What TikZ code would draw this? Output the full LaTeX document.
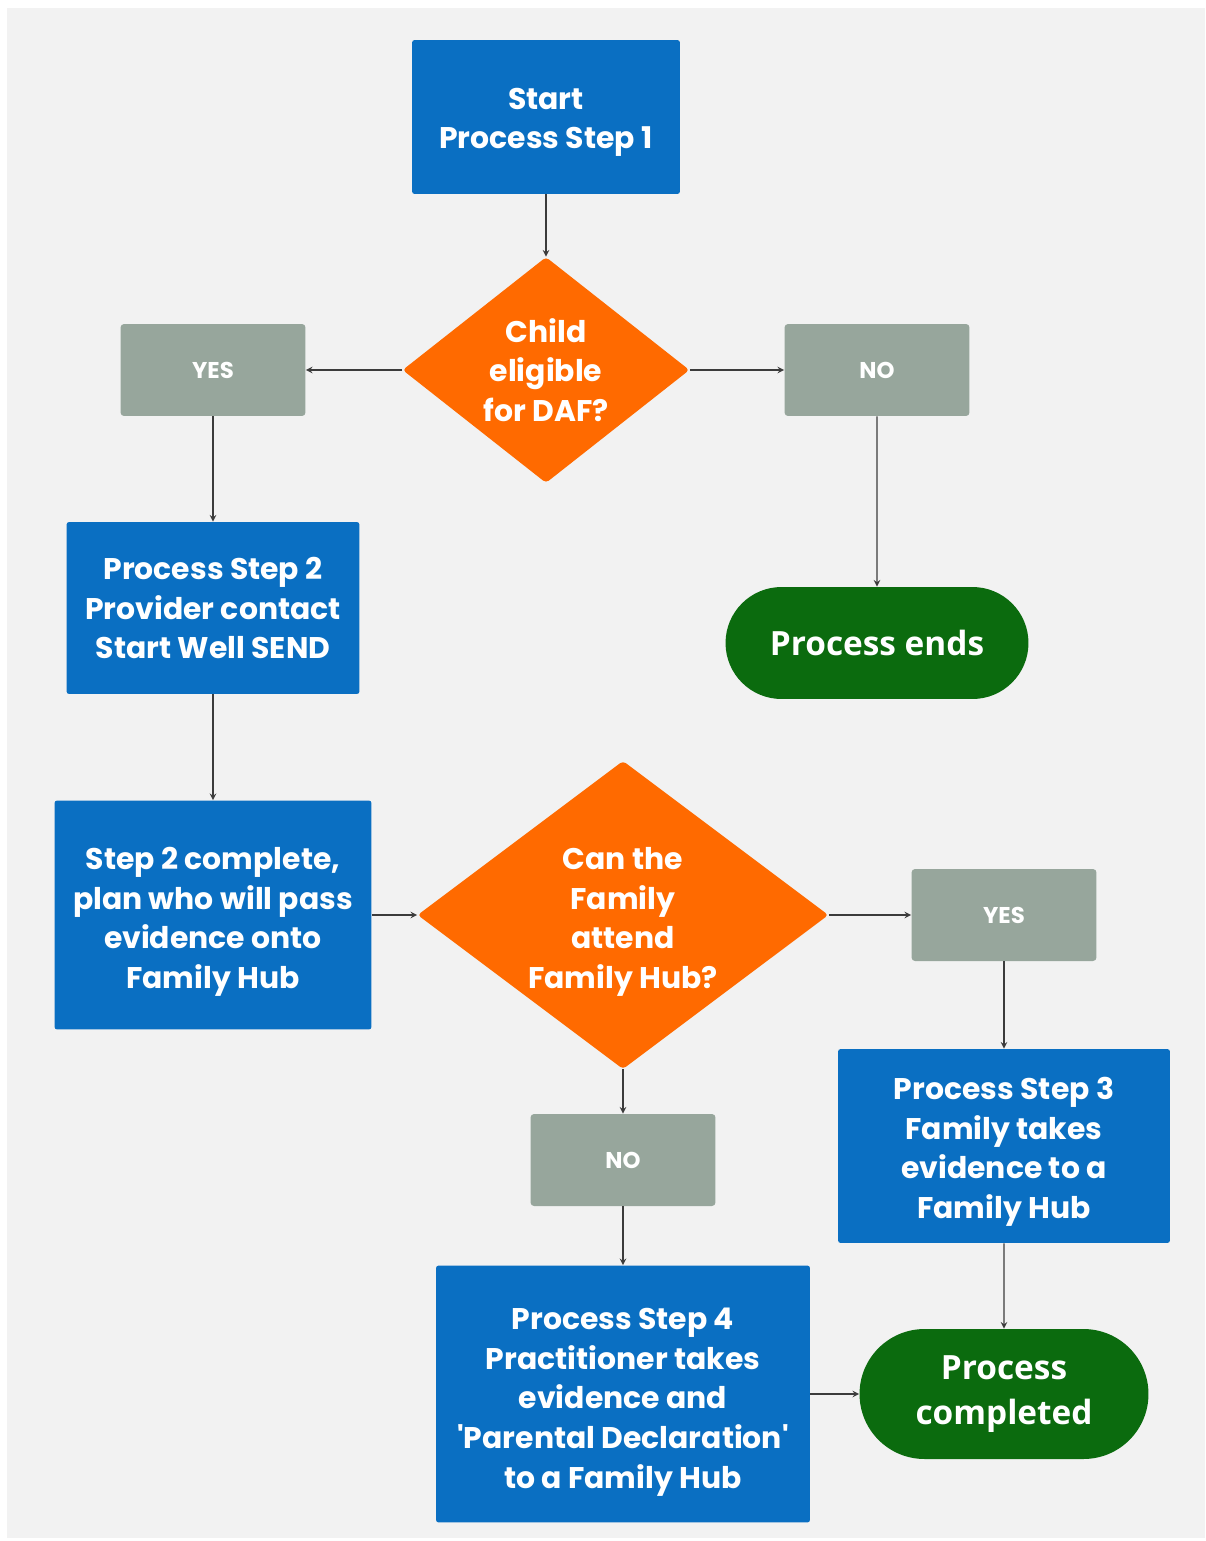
\documentclass[tikz,border=0pt]{standalone}
\usepackage{fontspec}
\setmainfont{Poppins}
\newfontfamily\endfont{Open Sans}
\usepackage{tikz}
\usetikzlibrary{arrows,shapes.geometric,shapes.misc}
\definecolor{stepblue}{HTML}{0A6FC2}
\definecolor{askorange}{HTML}{FF6A00}
\definecolor{replygray}{HTML}{97A69C}
\definecolor{endgreen}{HTML}{0B6B0E}
\definecolor{pagegray}{HTML}{F2F2F2}
\definecolor{linkgray}{HTML}{3C3C3C}

\begin{document}
\begin{tikzpicture}[x=0.02cm,y=-0.02cm,
  box/.style={rectangle,rounded corners=1.5pt,fill=stepblue,text=white,
    font=\fontsize{17}{22.5}\selectfont\bfseries,align=center,inner sep=0pt},
  decision/.style={diamond,shape aspect=1.3,rounded corners=2pt,fill=askorange,text=white,
    font=\fontsize{17}{22.5}\selectfont\bfseries,align=center,inner sep=0pt},
  reply/.style={rectangle,rounded corners=2pt,fill=replygray,text=white,
    font=\fontsize{13}{15}\selectfont\bfseries,minimum width=3.7cm,minimum height=1.84cm,inner sep=0pt},
  finish/.style={rounded rectangle,fill=endgreen,text=white,
    font=\endfont\fontsize{19}{25.5}\selectfont\bfseries,align=center,inner sep=0pt},
  link/.style={draw=linkgray,line width=0.7pt,-stealth}]
\useasboundingbox (0,0) rectangle (1206,1541);
\fill[pagegray] (7,8) rectangle (1205,1538);

% top half
\node[box,minimum width=5.36cm,minimum height=3.08cm] (start) at (546,117) {\rule{0pt}{18pt}Start\\Process Step 1};
\node[decision,minimum width=5.74cm,minimum height=4.52cm] (eligible) at (546,370) {Child\\eligible\\for DAF?};
\node[reply] (yesone) at (213,370) {YES};
\node[reply] (noone) at (877,370) {NO};
\node[box,minimum width=5.86cm,minimum height=3.44cm] (steptwo) at (213,608) {Process Step 2\\Provider contact\\Start Well SEND};
\node[finish,minimum width=6.06cm,minimum height=2.24cm] (ends) at (877,643) {Process ends};

% bottom half
\node[box,minimum width=6.34cm,minimum height=4.58cm] (plan) at (213,915) {\rule{0pt}{20.5pt}Step 2 complete,\\plan who will pass\\evidence onto\\Family Hub};
\node[decision,minimum width=8.22cm,minimum height=6.16cm] (attend) at (623,915) {\rule{0pt}{20.5pt}Can the\\Family\\attend\\Family Hub?};
\node[reply] (yestwo) at (1004,915) {YES};
\node[reply] (notwo) at (623,1160) {NO};
\node[box,minimum width=6.64cm,minimum height=3.88cm] (stepthree) at (1004,1146) {\rule{0pt}{19.5pt}Process Step 3\\Family takes\\evidence to a\\Family Hub};
\node[box,minimum width=7.48cm,minimum height=5.14cm] (stepfour) at (623,1394) {\rule{0pt}{21.5pt}Process Step 4\\Practitioner takes\\evidence and\\\textquotesingle Parental Declaration\textquotesingle\\to a Family Hub};
\node[finish,minimum width=5.78cm,minimum height=2.6cm] (completed) at (1004,1394) {Process\\completed};

\draw[link] (start) -- (eligible);
\draw[link] (eligible) -- (yesone);
\draw[link] (eligible) -- (noone);
\draw[link] (yesone) -- (steptwo);
\draw[link] (noone) -- (ends);
\draw[link] (steptwo) -- (plan);
\draw[link] (plan) -- (attend);
\draw[link] (attend) -- (yestwo);
\draw[link] (attend) -- (notwo);
\draw[link] (yestwo) -- (stepthree);
\draw[link] (notwo) -- (stepfour);
\draw[link] (stepthree) -- (completed);
\draw[link] (stepfour) -- (completed);
\end{tikzpicture}
\end{document}
